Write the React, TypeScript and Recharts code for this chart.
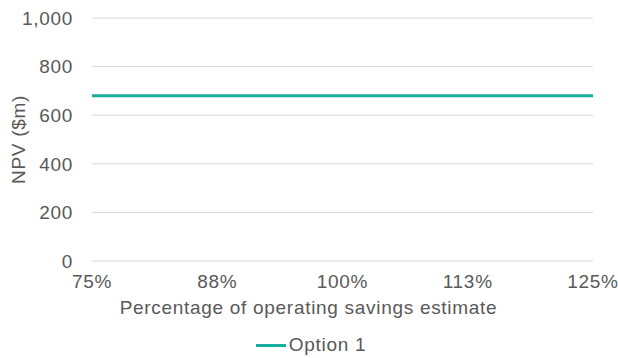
import React from "react";
import { LineChart, Line, XAxis, YAxis, CartesianGrid, Legend } from "recharts";

const savingsPct = ["75%", "88%", "100%", "113%", "125%"];
const option1Npv = [680, 680, 680, 680, 680];
const yTicks = [0, 200, 400, 600, 800, 1000];

const TEAL = "#17ae9f";
const TEXT = "#595959";
const GRID = "#d9d9d9";
const FONT = "'Liberation Sans', Arial, sans-serif";
const SPACING = 0.7;

const chartData = savingsPct.map((pct, i) => ({ pct, option1: option1Npv[i] }));

function LegendContent() {
  return (
    <div style={{ display: "flex", alignItems: "center", justifyContent: "center", marginLeft: 29, paddingTop: 6 }}>
      <div style={{ width: 30, height: 3, background: TEAL, marginRight: 3 }} />
      <span style={{ fontFamily: FONT, fontSize: 19, color: TEXT, letterSpacing: SPACING }}>Option 1</span>
    </div>
  );
}

export default function App() {
  React.useEffect(() => {
    document.body.style.margin = "0";
  }, []);

  return (
    <div style={{ width: 618, height: 358, background: "#fff" }}>
      <LineChart width={618} height={358} data={chartData} margin={{ top: 18, right: 25, left: 0, bottom: 0 }}>
        <CartesianGrid stroke={GRID} vertical={false} />
        <XAxis
          dataKey="pct"
          axisLine={false}
          tickLine={false}
          tickSize={0}
          tickMargin={14}
          height={67}
          interval={0}
          tick={{ fontSize: 19, fill: TEXT, fontFamily: FONT, letterSpacing: SPACING }}
          label={{
            value: "Percentage of operating savings estimate",
            position: "insideBottom",
            offset: 14,
            dx: -34,
            fontSize: 19,
            fill: TEXT,
            fontFamily: FONT,
            letterSpacing: SPACING,
          }}
        />
        <YAxis
          domain={[0, 1000]}
          ticks={yTicks}
          width={92}
          axisLine={false}
          tickLine={false}
          tickSize={0}
          tickMargin={19}
          tickFormatter={(v: number) => v.toLocaleString("en-US")}
          tick={{ fontSize: 19, fill: TEXT, fontFamily: FONT, letterSpacing: SPACING }}
          label={{
            value: "NPV ($m)",
            angle: -90,
            position: "insideLeft",
            offset: 18,
            style: { textAnchor: "middle" },
            fontSize: 19,
            fill: TEXT,
            fontFamily: FONT,
            letterSpacing: SPACING,
          }}
        />
        <Legend verticalAlign="bottom" height={30} content={<LegendContent />} />
        <Line
          type="linear"
          dataKey="option1"
          name="Option 1"
          stroke={TEAL}
          strokeWidth={3}
          dot={false}
          isAnimationActive={false}
        />
      </LineChart>
    </div>
  );
}
